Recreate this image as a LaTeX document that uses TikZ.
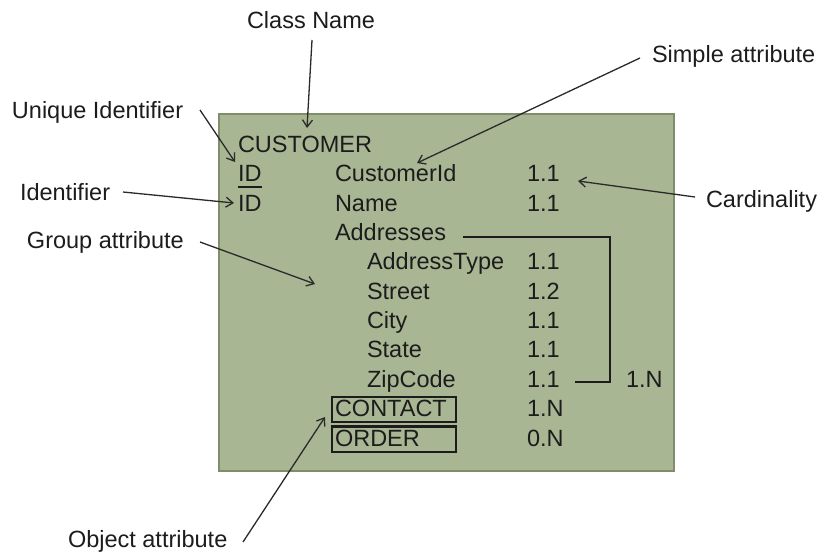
\documentclass[tikz,border=0pt]{standalone}
\usepackage{fontspec}
\setmainfont{Liberation Sans}
\usetikzlibrary{arrows.meta}
\definecolor{boxfill}{HTML}{A8B694}
\definecolor{boxedge}{HTML}{808C6A}
\definecolor{ink}{HTML}{1C1C1C}
\definecolor{pointer}{HTML}{2A2A2A}
\tikzset{
  txt/.style={anchor=base west, inner sep=0pt, outer sep=0pt, text=ink,
    font=\fontsize{23.5}{28}\selectfont},
  lbl/.style={txt},
  callout/.style={draw=pointer, line width=1.3pt,
    -{Straight Barb[length=7pt,width=10pt,line width=1.3pt]}},
  objbox/.style={draw=ink, line width=2.6pt},
  bracket/.style={draw=ink, line width=2pt},
}
\begin{document}
\begin{tikzpicture}[x=1pt,y=-1pt]
\useasboundingbox (0,0) rectangle (821,552);

% class box
\fill[boxfill, draw=boxedge, line width=2.5pt] (219,114) rectangle (674,471);

% rows of the class
\node[txt] (cls)   at (238,152) {CUSTOMER};
\node[txt] (uid)   at (238,181.5) {ID};
\node[txt] (id)    at (238,211) {ID};
\node[txt] (cid)   at (335,181.5) {CustomerId};
\node[txt] (name)  at (335,211) {Name};
\node[txt] (addr)  at (335,240.2) {Addresses};
\node[txt] (atype) at (367,269.6) {AddressType};
\node[txt] (street) at (367,299) {Street};
\node[txt] (city)  at (367,328.4) {City};
\node[txt] (state) at (367,357.8) {State};
\node[txt] (zip)   at (367,387.2) {ZipCode};
\node[txt] (contact) at (335,416.6) {CONTACT};
\node[txt] (order) at (335,446) {ORDER};

% cardinalities
\node[txt] (c1) at (527,181.5) {1.1};
\node[txt] (c2) at (527,211) {1.1};
\node[txt] (c3) at (527,269.6) {1.1};
\node[txt] (c4) at (527,299) {1.2};
\node[txt] (c5) at (527,328.4) {1.1};
\node[txt] (c6) at (527,357.8) {1.1};
\node[txt] (c7) at (527,387.2) {1.1};
\node[txt] (c8) at (527,416.6) {1.N};
\node[txt] (c9) at (527,446) {0.N};
\node[txt] (cg) at (626,387.2) {1.N};

% underline of the unique identifier
\draw[ink, line width=1.6pt] (238,187) -- (261.5,187);

% object attribute frames
\draw[objbox] (332,397) rectangle (456,422);
\draw[objbox] (332,426.5) rectangle (456,452);

% group bracket
\coordinate (gtop) at (463,237);
\coordinate (gbot) at (575,382);
\draw[bracket] (gtop) -- (610,237) -- (610,382) -- (gbot);

% explanatory labels
\node[lbl] (lclass)  at (247,28)  {Class Name};
\node[lbl] (luid)    at (12,118)  {Unique Identifier};
\node[lbl] (lid)     at (20,200)  {Identifier};
\node[lbl] (lgroup)  at (27,248)  {Group attribute};
\node[lbl] (lsimple) at (652,62)  {Simple attribute};
\node[lbl] (lcard)   at (706,207) {Cardinality};
\node[lbl] (lobj)    at (68,547)  {Object attribute};

% callout ends
\coordinate (aclass0) at (312,40);   \coordinate (aclass1) at (307,128);
\coordinate (auid0)   at (200,110);  \coordinate (auid1)   at (235,162);
\coordinate (aid0)    at (123,192);  \coordinate (aid1)    at (234,203);
\coordinate (agrp0)   at (200,242);  \coordinate (agrp1)   at (315,284);
\coordinate (asim0)   at (640,58);   \coordinate (asim1)   at (417,163);
\coordinate (acard0)  at (695,197);  \coordinate (acard1)  at (578,181);
\coordinate (aobj0)   at (243,542);  \coordinate (aobj1)   at (325,417);

\draw[callout] (aclass0) -- (aclass1);
\draw[callout] (auid0) -- (auid1);
\draw[callout] (aid0) -- (aid1);
\draw[callout] (agrp0) -- (agrp1);
\draw[callout] (asim0) -- (asim1);
\draw[callout] (acard0) -- (acard1);
\draw[callout] (aobj0) -- (aobj1);
\end{tikzpicture}
\end{document}
